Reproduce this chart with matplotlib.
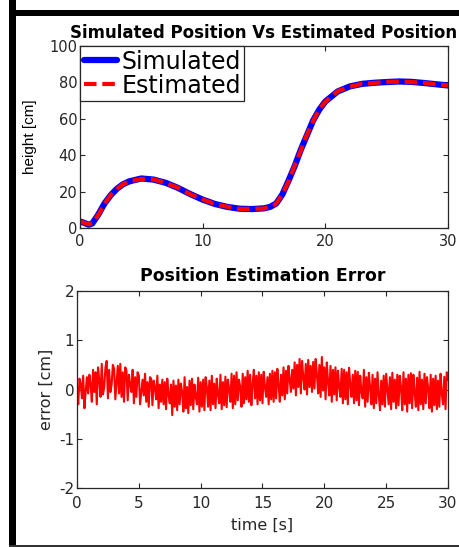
import matplotlib
matplotlib.use("Agg")
import matplotlib.pyplot as plt
import numpy as np
from matplotlib.patches import Rectangle

# simulated / estimated height (cm)
t_pos = [0, 0.35, 0.7, 1.0, 1.5, 2.0, 2.5, 3.0, 3.5, 4.0, 5.0, 6.0, 7.0, 8.0, 9.0, 10.0,
         11.0, 12.0, 13.0, 14.0, 15.0, 15.5, 16.0, 16.5, 17.0, 17.5, 18.0, 18.5, 19.0,
         19.5, 20.0, 21.0, 22.0, 23.0, 24.0, 25.0, 26.0, 27.0, 28.0, 29.0, 30.0]
h_sim = [3.6, 2.8, 1.8, 2.5, 7.5, 13.5, 18.0, 21.5, 24.0, 25.6, 27.2, 26.6, 24.8, 22.0, 18.6, 15.6,
         13.2, 11.6, 10.6, 10.4, 10.8, 11.6, 13.5, 18.5, 26.0, 34.0, 43.0, 51.0, 59.0,
         65.0, 69.5, 75.0, 77.8, 79.2, 79.8, 80.2, 80.5, 80.3, 79.7, 79.0, 78.3]
h_est = [3.4, 2.9, 2.0, 2.6, 7.3, 13.3, 18.1, 21.4, 24.1, 25.5, 27.0, 26.7, 24.7, 22.1, 18.5, 15.7,
         13.1, 11.7, 10.5, 10.5, 10.7, 11.7, 13.3, 18.7, 25.6, 34.3, 42.6, 51.3, 58.7,
         65.2, 69.3, 75.2, 77.6, 79.3, 79.7, 80.3, 80.4, 80.2, 79.8, 78.9, 78.4]

# estimation error (cm), 10 samples per second
err = [
    0.05, -0.30, 0.22, 0.12, -0.18, 0.28, -0.38, -0.05, 0.25, -0.08,
    0.30, 0.10, -0.25, 0.40, -0.05, 0.35, -0.30, 0.45, 0.20, -0.15,
    0.52, -0.10, 0.05, 0.45, 0.58, -0.18, 0.40, -0.05, 0.10, 0.50,
    0.42, -0.20, 0.15, 0.48, -0.08, 0.52, -0.15, 0.35, -0.25, 0.45,
    0.38, -0.22, 0.30, 0.10, -0.05, 0.40, -0.28, 0.25, -0.15, 0.35,
    0.28, -0.30, -0.05, 0.20, -0.12, 0.32, -0.25, 0.15, -0.35, 0.25,
    0.22, -0.32, 0.18, 0.05, -0.20, 0.28, -0.38, 0.10, -0.25, 0.20,
    -0.30, 0.15, -0.40, 0.22, -0.10, -0.28, 0.10, -0.52, 0.18, -0.35,
    0.08, -0.42, 0.20, -0.30, 0.12, -0.05, -0.45, 0.25, -0.38, 0.05,
    -0.48, 0.18, -0.32, 0.22, -0.40, 0.10, -0.15, -0.30, 0.24, -0.45,
    0.15, -0.35, 0.20, -0.42, 0.25, 0.05, -0.35, 0.18, -0.42, 0.28,
    -0.30, 0.12, -0.38, 0.22, -0.10, -0.28, 0.30, -0.40, 0.15, -0.32,
    0.26, -0.36, 0.20, 0.00, -0.25, 0.32, -0.38, 0.28, -0.30, 0.35,
    -0.22, 0.20, 0.05, -0.35, 0.32, -0.28, 0.25, -0.20, 0.38, -0.25,
    0.30, -0.32, 0.10, 0.40, -0.18, 0.28, -0.30, 0.35, -0.22, 0.30,
    -0.28, 0.36, 0.05, -0.15, 0.25, -0.30, 0.32, -0.20, 0.38, -0.25,
    0.35, -0.18, 0.42, 0.10, -0.25, 0.30, -0.12, 0.45, -0.20, 0.38,
    -0.08, 0.48, 0.20, -0.05, 0.40, 0.02, 0.55, -0.12, 0.50, 0.05,
    0.62, -0.08, 0.58, 0.25, 0.00, 0.52, -0.10, 0.60, 0.05, 0.48,
    -0.05, 0.56, 0.02, 0.62, 0.30, -0.08, 0.50, -0.15, 0.66, -0.02,
    0.45, -0.20, 0.55, 0.15, -0.12, 0.48, -0.25, 0.40, -0.10, 0.45,
    -0.22, 0.38, 0.05, -0.15, 0.42, -0.28, 0.40, -0.20, 0.35, -0.30,
    0.44, 0.10, -0.15, 0.30, -0.28, 0.38, -0.22, 0.36, -0.32, 0.28,
    -0.05, -0.18, 0.40, -0.35, 0.25, -0.25, 0.34, 0.05, -0.30, 0.30,
    -0.38, 0.22, -0.28, 0.35, -0.10, -0.42, 0.18, -0.30, 0.28, -0.35,
    0.32, 0.00, -0.30, 0.25, -0.40, 0.34, -0.25, 0.20, -0.38, 0.30,
    -0.32, 0.28, 0.05, -0.42, 0.35, -0.30, 0.22, -0.45, 0.30, -0.28,
    0.33, -0.38, 0.30, -0.05, -0.35, 0.24, -0.42, 0.36, -0.30, 0.20,
    -0.40, 0.32, -0.28, 0.25, 0.02, -0.38, 0.30, -0.45, 0.22, -0.32,
    0.28, -0.40, 0.18, -0.35, 0.32, -0.10, -0.30, 0.26, -0.40, 0.35,
    0.20,
]
t_err = np.linspace(0, 30, len(err))

pos_yticks = [0, 20, 40, 60, 80, 100]
pos_xticks = [0, 10, 20, 30]
err_yticks = [-2, -1, 0, 1, 2]
err_xticks = [0, 5, 10, 15, 20, 25, 30]

W, H = 460, 547
AX = "#262626"
plt.rcParams["font.family"] = ["DejaVu Sans"]
plt.rcParams["axes.unicode_minus"] = False

fig = plt.figure(figsize=(W / 100, H / 100), dpi=100)
fig.patch.set_facecolor("white")

def fx(x): return x / W
def fy(y): return 1 - y / H

# black frame around the figure (left, top, bottom)
fig.add_artist(Rectangle((fx(9), fy(547)), fx(7), 547 / H, transform=fig.transFigure, color="black", lw=0))
fig.add_artist(Rectangle((fx(9), fy(15.5)), 1, 5.5 / H, transform=fig.transFigure, color="black", lw=0))
fig.add_artist(Rectangle((fx(9), fy(546.5)), 1, 2 / H, transform=fig.transFigure, color="#333333", lw=0))

def style(ax, fs, xpad):
    for s in ax.spines.values():
        s.set_color(AX); s.set_linewidth(0.9)
    ax.tick_params(direction="in", length=3.5, width=0.8, colors=AX, labelsize=fs,
                   top=True, right=True, pad=2)
    ax.tick_params(axis="x", pad=xpad)

ax1 = fig.add_axes([fx(80), fy(228), fx(368), 182 / H])
ax1.plot(t_pos, h_sim, color="#0000ff", lw=4.5, solid_capstyle="round", label="Simulated")
ax1.plot(t_pos, h_est, color="#ff0000", lw=3.0, linestyle=(0, (3.0, 1.4)), label="Estimated")
ax1.set_xlim(0, 30); ax1.set_ylim(0, 100)
ax1.set_xticks(pos_xticks); ax1.set_yticks(pos_yticks)
style(ax1, 10.5, 4)
ax1.set_title("Simulated Position Vs Estimated Position", fontsize=12, fontweight="bold",
              color="black", pad=6)
ax1.set_ylabel("height [cm]", fontsize=11, family=["Liberation Sans"], labelpad=9)
leg = ax1.legend(loc="upper left", bbox_to_anchor=(0, 1), borderaxespad=0, fontsize=17,
                 fancybox=False, framealpha=1, edgecolor=AX, handlelength=1.4,
                 handletextpad=0.2, labelspacing=0.0, borderpad=0.15)
leg.get_frame().set_linewidth(0.9)
for txt in leg.get_texts():
    txt.set_color("black")

ax2 = fig.add_axes([fx(77), fy(488), fx(371), 197 / H])
ax2.plot(t_err, err, color="#ff0000", lw=1.5)
ax2.set_xlim(0, 30); ax2.set_ylim(-2, 2)
ax2.set_xticks(err_xticks); ax2.set_yticks(err_yticks)
style(ax2, 11, 6)
ax2.set_title("Position Estimation Error", fontsize=12.4, fontweight="bold", color="black", pad=7)
ax2.set_ylabel("error [cm]", fontsize=11.5, color=AX, labelpad=4)
ax2.set_xlabel("time [s]", fontsize=11.5, color=AX, labelpad=5)

fig.savefig("out.png", dpi=100, facecolor="white")
